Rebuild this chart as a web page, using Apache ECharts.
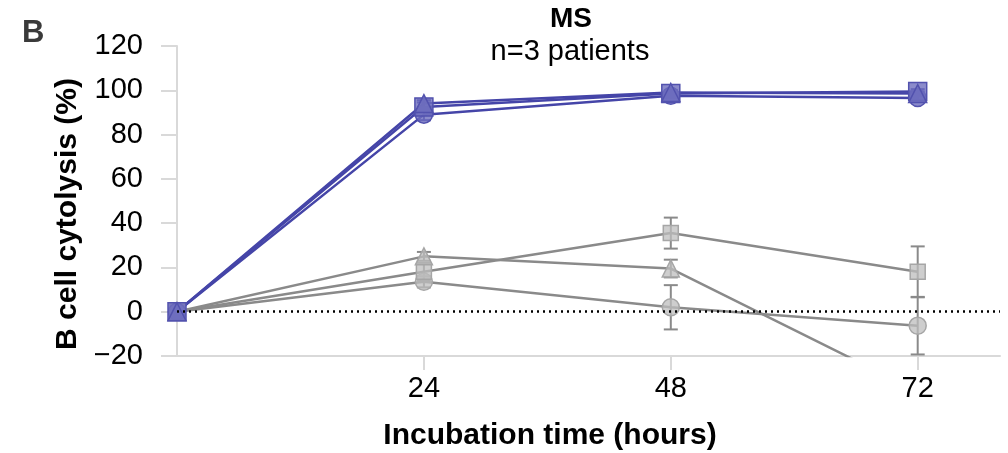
<!DOCTYPE html>
<html>
<head>
<meta charset="utf-8">
<script src="https://cdn.jsdelivr.net/npm/echarts@6/dist/echarts.min.js"></script>
<style>
  html, body { margin: 0; padding: 0; background: #fff; }
  #chart { width: 1008px; height: 453px; }
</style>
</head>
<body>
<div id="chart"></div>
<script>
// incubation time in hours
var hours = [0, 24, 48, 72];
var xTicks = [24, 48, 72];

// MS patients, anti-CD20 condition (blue)
var msCircle = [0, 89, 97.5, 96.5];
var msSquare = [0, 92.5, 98.5, 99.5];
var msTriangle = [0, 94, 99, 98.5];
var msCircleErr = [0, 2.5, 1, 1];
var msSquareErr = [0, 2, 1, 1];
var msTriangleErr = [0, 1.5, 1, 1];

// MS patients, control condition (grey)
var ctrlCircle = [0, 13.5, 2, -6.3];
var ctrlSquare = [0, 18, 35.5, 18];
var ctrlTriangle = [0, 25, 19.5, -36];
var ctrlCircleErr = [0, 2.5, 10, 13];
var ctrlSquareErr = [0, 4, 7, 11.5];
var ctrlTriangleErr = [0, 2, 4, 6];

var FONT = '"Liberation Sans", Arial, sans-serif';
var BLUE = '#4545a8';
var GREY = '#8a8a8a';

function pairs(vals) {
    return hours.map(function (h, i) { return [h, vals[i]]; });
}

function errData(vals, errs) {
    var out = [];
    for (var i = 0; i < hours.length; i++) {
        if (errs[i] > 0) out.push([hours[i], vals[i] - errs[i], vals[i] + errs[i]]);
    }
    return out;
}

function errSeries(vals, errs, color) {
    return {
        type: 'custom',
        clip: true,
        silent: true,
        z: 1,
        data: errData(vals, errs),
        encode: { x: 0, y: [1, 2] },
        renderItem: function (params, api) {
            var x = api.value(0);
            var lo = api.coord([x, api.value(1)]);
            var hi = api.coord([x, api.value(2)]);
            var w = 7;
            var st = { stroke: color, lineWidth: 2 };
            return {
                type: 'group',
                children: [
                    { type: 'line', shape: { x1: lo[0], y1: lo[1], x2: hi[0], y2: hi[1] }, style: st },
                    { type: 'line', shape: { x1: lo[0] - w, y1: lo[1], x2: lo[0] + w, y2: lo[1] }, style: st },
                    { type: 'line', shape: { x1: hi[0] - w, y1: hi[1], x2: hi[0] + w, y2: hi[1] }, style: st }
                ]
            };
        }
    };
}

function lineSeries(vals, symbol, size, lineColor, fill, border) {
    return {
        type: 'line',
        data: pairs(vals),
        symbol: symbol,
        symbolSize: size,
        showAllSymbol: true,
        clip: true,
        z: 2,
        lineStyle: { color: lineColor, width: 2.5 },
        itemStyle: { color: fill, borderColor: border, borderWidth: 1.5 },
        emphasis: { disabled: true }
    };
}

var greyFill = 'rgba(190,190,190,0.75)';
var greyBorder = '#a6a6a6';
var blueFill = 'rgba(110,110,190,0.8)';
var blueBorder = '#5252ae';

var series = [
    errSeries(ctrlCircle, ctrlCircleErr, GREY),
    errSeries(ctrlSquare, ctrlSquareErr, GREY),
    errSeries(ctrlTriangle, ctrlTriangleErr, GREY),
    lineSeries(ctrlCircle, 'circle', 17, GREY, greyFill, greyBorder),
    lineSeries(ctrlSquare, 'rect', 15, GREY, greyFill, greyBorder),
    lineSeries(ctrlTriangle, 'triangle', 17, GREY, greyFill, greyBorder),
    errSeries(msCircle, msCircleErr, BLUE),
    errSeries(msSquare, msSquareErr, BLUE),
    errSeries(msTriangle, msTriangleErr, BLUE),
    lineSeries(msCircle, 'circle', 17, BLUE, blueFill, blueBorder),
    lineSeries(msSquare, 'rect', 18, BLUE, blueFill, blueBorder),
    lineSeries(msTriangle, 'triangle', 18, BLUE, blueFill, blueBorder)
];

// dotted zero reference line
series[3].markLine = {
    silent: true,
    symbol: 'none',
    label: { show: false },
    lineStyle: { type: [2, 4], color: '#000', width: 2.5 },
    data: [{ yAxis: 0 }]
};

var chart = echarts.init(document.getElementById('chart'));
chart.setOption({
    animation: false,
    grid: { left: 177, right: 8, top: 46, bottom: 97, containLabel: false },
    xAxis: {
        type: 'value',
        min: 0,
        max: 80,
        interval: 24,
        axisLine: { onZero: false, lineStyle: { color: '#d9d9d9', width: 2 } },
        axisTick: { show: true, customValues: xTicks, length: 14, lineStyle: { color: '#d9d9d9', width: 2 } },
        axisLabel: { customValues: xTicks, color: '#000', fontSize: 29, fontFamily: FONT, margin: 18 },
        splitLine: { show: false }
    },
    yAxis: {
        type: 'value',
        min: -20,
        max: 120,
        interval: 20,
        axisLine: { show: true, lineStyle: { color: '#d9d9d9', width: 2 } },
        axisTick: { show: true, length: 16, lineStyle: { color: '#d9d9d9', width: 2 } },
        axisLabel: {
            color: '#000', fontSize: 29, fontFamily: FONT, margin: 34,
            formatter: function (v) { return String(v).replace('-', '\u2212'); }
        },
        splitLine: { show: false }
    },
    graphic: [
        { type: 'text', left: 22, top: 18, style: { text: 'B', font: 'bold 31px ' + FONT, fill: '#3a3a3a' } },
        { type: 'text', x: 571, y: 19, style: { text: 'MS', font: 'bold 28px ' + FONT, fill: '#000', align: 'center', verticalAlign: 'middle' } },
        { type: 'text', x: 570, y: 52, style: { text: 'n=3 patients', font: '29px ' + FONT, fill: '#000', align: 'center', verticalAlign: 'middle' } },
        { type: 'text', x: 550, y: 436, style: { text: 'Incubation time (hours)', font: 'bold 30px ' + FONT, fill: '#000', align: 'center', verticalAlign: 'middle' } },
        { type: 'text', x: 68, y: 214, rotation: Math.PI / 2, style: { text: 'B cell cytolysis (%)', font: 'bold 30px ' + FONT, fill: '#000', align: 'center', verticalAlign: 'middle' } }
    ],
    series: series
});
</script>
</body>
</html>
